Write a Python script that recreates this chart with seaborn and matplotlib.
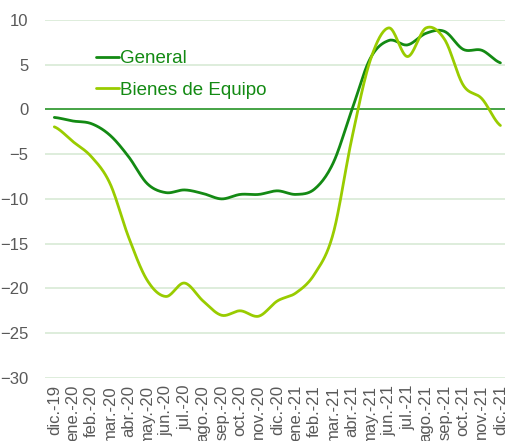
import numpy as np
import pandas as pd
import matplotlib
matplotlib.use("Agg")
import matplotlib.pyplot as plt
import seaborn as sns

# data
meses = ["dic.-19", "ene.-20", "feb.-20", "mar.-20", "abr.-20", "may.-20", "jun.-20",
         "jul.-20", "ago.-20", "sep.-20", "oct.-20", "nov.-20", "dic.-20", "ene.-21",
         "feb.-21", "mar.-21", "abr.-21", "may.-21", "jun.-21", "jul.-21", "ago.-21",
         "sep.-21", "oct.-21", "nov.-21", "dic.-21"]
general = [-0.9, -1.3, -1.6, -2.9, -5.3, -8.3, -9.3, -9.0, -9.4, -10.0, -9.5, -9.5, -9.1,
           -9.5, -8.9, -6.0, -0.1, 5.7, 7.7, 7.2, 8.5, 8.7, 6.7, 6.6, 5.2]
bienes = [-1.95, -3.6, -5.3, -8.3, -14.3, -19.1, -20.9, -19.4, -21.4, -23.0, -22.5, -23.1,
          -21.4, -20.5, -18.4, -13.9, -3.3, 5.5, 9.1, 5.9, 9.1, 7.8, 2.7, 1.2, -1.8]
series = ["General", "Bienes de Equipo"]
colores = ["#138a13", "#99cc00"]


# smooth line like the spreadsheet "smoothed line" option (rendering only)
def smooth(y, n=20):
    y = np.asarray(y, dtype=float)
    p = np.concatenate([[y[0]], y, [y[-1]]])
    xs, ys = [], []
    for i in range(len(y) - 1):
        t = np.linspace(0, 1, n, endpoint=False)
        p0, p1, p2, p3 = p[i], p[i + 1], p[i + 2], p[i + 3]
        b1 = p1 + (p2 - p0) / 6
        b2 = p2 - (p3 - p1) / 6
        ys.append((1 - t) ** 3 * p1 + 3 * (1 - t) ** 2 * t * b1 + 3 * (1 - t) * t ** 2 * b2 + t ** 3 * p2)
        xs.append(i + t)
    xs.append([len(y) - 1])
    ys.append([y[-1]])
    return np.concatenate(xs), np.concatenate(ys)


frames = []
for name, vals in zip(series, [general, bienes]):
    sx, sy = smooth(vals)
    frames.append(pd.DataFrame({"x": sx, "y": sy, "serie": name}))
df = pd.concat(frames, ignore_index=True)

sns.set_style("white")
plt.rcParams['font.family'] = ['Liberation Sans', 'DejaVu Sans']

fig = plt.figure(figsize=(5.06, 4.41), dpi=100)
ax = fig.add_axes([0.089, 0.143, 0.911, 0.812])

for v in range(-30, 11, 5):
    if v != 0:
        ax.axhline(v, color="#d8ead5", lw=1.2, zorder=0)
ax.axhline(0, color="#138a13", lw=1.1, zorder=1)

sns.lineplot(data=df, x="x", y="y", hue="serie", hue_order=series, palette=colores,
             lw=2, ax=ax, sort=False, estimator=None, zorder=3)

ax.set_xlim(-0.5, 24.3)
ax.set_ylim(-30, 10)
ax.set_yticks(range(-30, 11, 5))
ax.set_xticks(range(len(meses)))
ax.set_xticklabels(meses, rotation=90, fontsize=12, color="#595959")
ax.tick_params(axis="y", labelsize=12, labelcolor="#595959", length=0, pad=12)
ax.tick_params(axis="x", length=0, pad=5)
ax.set_xlabel("")
ax.set_ylabel("")
for s in ax.spines.values():
    s.set_visible(False)

leg = ax.legend(loc="upper left", bbox_to_anchor=(0.073, 0.962), frameon=False, fontsize=13.5,
                handlelength=1.25, handletextpad=0.05, labelspacing=0.75)
for t in leg.get_texts():
    t.set_color("#138a13")

fig.savefig("out.png", dpi=100)
